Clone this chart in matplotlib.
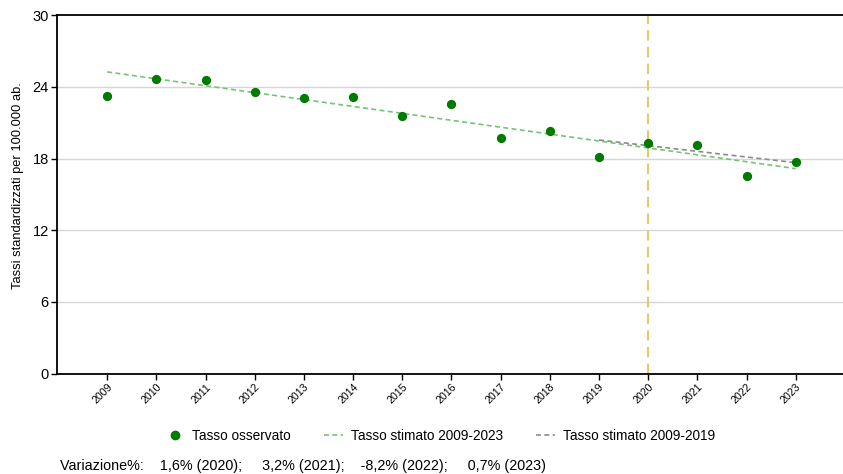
import matplotlib
matplotlib.use("Agg")
import matplotlib.pyplot as plt
from matplotlib.lines import Line2D

plt.rcParams['font.family'] = ['Liberation Sans', 'DejaVu Sans']

# dati
anni = [2009, 2010, 2011, 2012, 2013, 2014, 2015, 2016, 2017, 2018, 2019, 2020, 2021, 2022, 2023]
tasso_osservato = [23.2, 24.65, 24.6, 23.55, 23.05, 23.15, 21.55, 22.55, 19.7, 20.3, 18.15, 19.3, 19.1, 16.55, 17.7]
anni_trend_2023 = [2009, 2023]
trend_2009_2023 = [25.25, 17.15]
anni_trend_2019 = [2019, 2023]
trend_2009_2019 = [19.55, 17.65]
y_ticks = [0, 6, 12, 18, 24, 30]
testo_variazione = "Variazione%:    1,6% (2020);     3,2% (2021);    -8,2% (2022);     0,7% (2023)"

fig = plt.figure(figsize=(8.43, 4.74), dpi=100)
ax = fig.add_axes([0.0676, 0.212, 0.9324, 0.756])

for y in y_ticks[1:-1]:
    ax.axhline(y, color='#d6d6d6', lw=1.0, zorder=0)

ax.axvline(2020, color='#e6c96b', lw=1.5, ls=(0, (5, 3)), zorder=1)

ax.plot(anni_trend_2023, trend_2009_2023, color='#74c476', lw=1.2, ls=(0, (3, 2)), zorder=2)
ax.plot(anni_trend_2019, trend_2009_2019, color='#8c8c8c', lw=1.2, ls=(0, (3, 2)), zorder=2)
ax.scatter(anni, tasso_osservato, s=32, color='#007a00', zorder=3)

ax.set_xlim(2007.98, 2023.96)
ax.set_ylim(0, 30)
ax.set_yticks(y_ticks)
ax.set_xticks(anni)
ax.set_xticklabels([str(a) for a in anni], rotation=45, fontsize=7.7, ha='right', rotation_mode='anchor')
ax.tick_params(axis='y', labelsize=10.5, length=4, width=1, pad=2)
ax.tick_params(axis='x', length=4, width=1, pad=2)
ax.set_ylabel("Tassi standardizzati per 100.000 ab.", fontsize=9.3)
ax.yaxis.set_label_coords(-0.042, 0.523)

for s in ['left', 'bottom', 'top']:
    ax.spines[s].set_linewidth(1.3)
    ax.spines[s].set_color('black')
ax.spines['right'].set_visible(False)

handles = [
    Line2D([], [], marker='o', ls='none', color='#007a00', markersize=6),
    Line2D([], [], color='#74c476', lw=1.2, ls=(0, (3, 2))),
    Line2D([], [], color='#8c8c8c', lw=1.2, ls=(0, (3, 2))),
]
labels = ["Tasso osservato", "Tasso stimato 2009-2023", "Tasso stimato 2009-2019"]
fig.legend(handles, labels, loc='center', bbox_to_anchor=(0.522, 0.08), ncol=3,
           frameon=False, fontsize=9.8, handlelength=1.45, columnspacing=2.4, handletextpad=0.55)

fig.text(0.071, 0.017, testo_variazione, fontsize=10.4, ha='left', va='center')

fig.savefig("out.png", dpi=100)
